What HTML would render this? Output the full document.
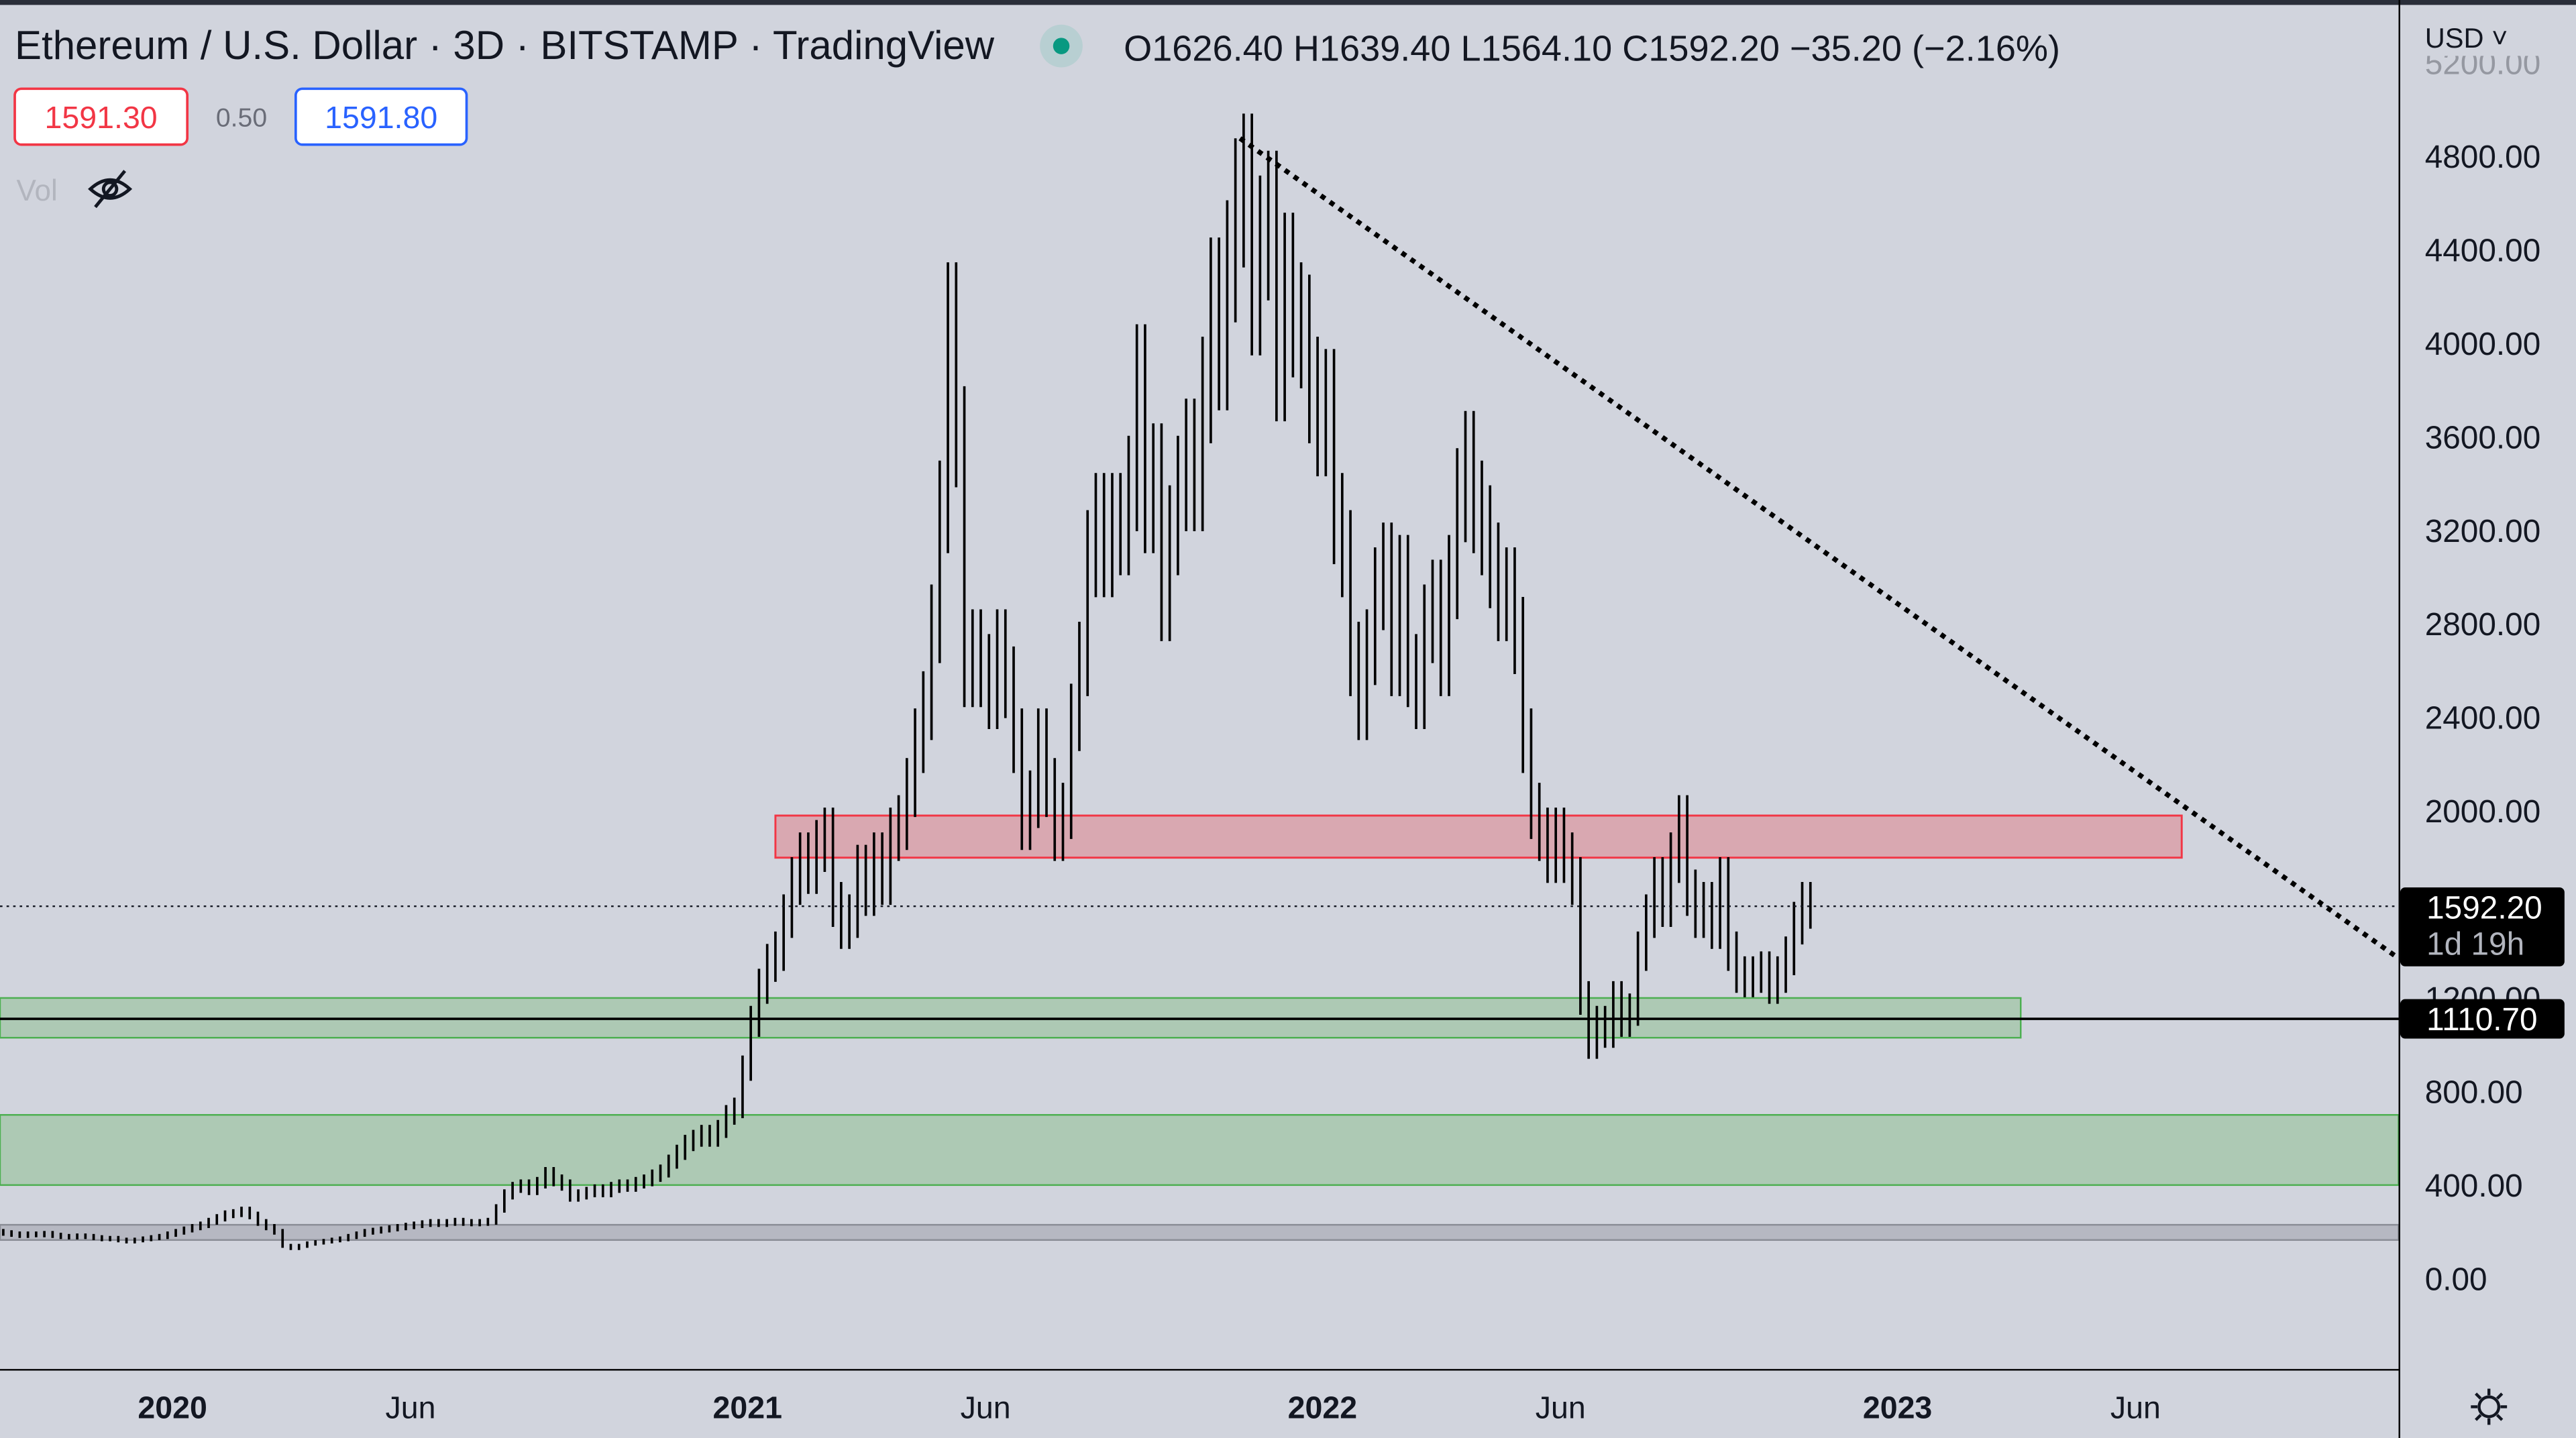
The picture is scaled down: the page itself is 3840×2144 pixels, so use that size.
<!DOCTYPE html>
<html><head><meta charset="utf-8"><style>
html,body{margin:0;padding:0;background:#d1d4dd;}
svg{display:block;font-family:"Liberation Sans",sans-serif;}
</style></head><body>
<svg id="chart" width="3840" height="2144" viewBox="0 0 1568 875" preserveAspectRatio="none" xmlns="http://www.w3.org/2000/svg">
<rect x="0" y="0" width="1568" height="875" fill="#d1d4dd"/>
<rect x="0" y="0" width="1568" height="3" fill="#2a2e39"/>
<g id="zones"></g>
<g id="bars"></g>
<g id="overlay"></g>
<line x1="1460.5" y1="0" x2="1460.5" y2="875" stroke="#000" stroke-width="1"/>
<line x1="0" y1="833.5" x2="1460" y2="833.5" stroke="#000" stroke-width="1"/>
<g id="yaxis"></g>
<g id="xaxis"></g>
<g>
<text x="9" y="36" font-size="24.5" fill="#131722">Ethereum / U.S. Dollar · 3D · BITSTAMP · TradingView</text>
<circle cx="646" cy="28" r="13" fill="#b8cfd2"/>
<circle cx="646" cy="28" r="5" fill="#089981"/>
<text x="684" y="37" font-size="22.1" fill="#131722">O1626.40  H1639.40  L1564.10  C1592.20  −35.20 (−2.16%)</text>
<rect x="9" y="54" width="105" height="34" rx="4" fill="#fff" stroke="#f23645" stroke-width="1.5"/>
<text x="61.5" y="78" font-size="19" fill="#f23645" text-anchor="middle">1591.30</text>
<text x="147" y="77" font-size="16" fill="#6a6d78" text-anchor="middle">0.50</text>
<rect x="180" y="54" width="104" height="34" rx="4" fill="#fff" stroke="#2962ff" stroke-width="1.5"/>
<text x="232" y="78" font-size="19" fill="#2962ff" text-anchor="middle">1591.80</text>
<text x="10" y="122" font-size="18" fill="#b2b5be">Vol</text>
<g stroke="#131722" stroke-width="2" fill="none">
<path d="M55 115 Q67 104 79 115 Q67 126 55 115Z"/><circle cx="67" cy="115" r="4"/><line x1="58" y1="126" x2="76" y2="104"/></g>
</g>
<g id="yaxis-top"></g>
<g>
<rect x="1462" y="4" width="105" height="30" fill="#d1d4dd"/>
<text x="1476" y="29" font-size="17" fill="#131722">USD ˅</text>
<g stroke="#131722" stroke-width="1.8" fill="none">
<circle cx="1515" cy="856" r="6"/><path d="M1515 845v4M1515 863v4M1504 856h4M1522 856h4M1507 848l3 3M1520 861l3 3M1507 864l3-3M1520 851l3-3"/></g>
</g>
</svg>
<script>
const closes=[195,190,185,190,188,192,185,180,178,182,180,175,170,172,165,160,165,170,175,180,
190,200,210,220,230,245,260,275,280,290,
270,240,220,200,140,
130,140,150,155,160,165,170,180,190,200,205,210,215,220,225,230,235,240,235,240,245,240,238,240,245,
300,360,390,400,380,410,450,420,400,350,
360,370,380,370,390,400,395,410,420,440,
460,500,540,580,600,620,600,640,700,730,900,
1100,1250,1350,1400,1550,1700,1800,1750,1850,1900,1600,1500,1550,1750,1650,1800,1700,1900,1950,2100,
2300,2450,2800,3300,4100,3600,2600,2700,2600,2500,2700,2550,2300,1950,2050,2300,2100,1900,2000,2400,
2650,3100,3250,3100,3250,3200,3400,3850,3300,3450,2900,3200,3400,3550,3400,3800,4200,3950,4350,4600,
4700,4200,4450,4550,3900,4300,4100,4050,3800,3650,3750,3250,3100,2650,2450,2700,2950,3050,2650,3000,
2600,2500,2800,2900,2650,3000,3350,3500,3300,3200,3050,2900,2950,2750,2300,2000,1900,1800,1900,1800,
1700,1200,1000,1100,1050,1200,1100,1150,1400,1550,1700,1600,1800,1950,1650,1550,1600,1500,1700,1400,
1300,1280,1300,1320,1250,1300,1380,1520,1600,1592];
const firstOpen=200;
const yTicks=[0,400,800,1200,2000,2400,2800,3200,3600,4000,4400,4800,5200];
const xTickLabels=["2020","Jun","2021","Jun","2022","Jun","2023","Jun"];
const xTickYears=[2020,2020.414,2021,2021.414,2022,2022.414,2023,2023.414];
const bandTop=[1200,700,230];
const bandBottom=[1030,400,165];
const resistTop=1980, resistBottom=1800;
const lastPrice=1592.20, supportLine=1110.70;
const trendStart=[2021.86,4870], trendEnd=[2023.90,1320];

const NS="http://www.w3.org/2000/svg";
const Y=v=>778-v*(683/4800);
const XT=t=>105+(t-2020)*350;
const XI=i=>2+i*5;
function mk(tag,attrs,parent){const e=document.createElementNS(NS,tag);for(const k in attrs)e.setAttribute(k,attrs[k]);parent.appendChild(e);return e;}
const zones=document.getElementById('zones'),bars=document.getElementById('bars'),ov=document.getElementById('overlay');
const ya=document.getElementById('yaxis'),xa=document.getElementById('xaxis');
const bandRight=[1230,1460,1460];
const bandFill=["#adc9b4","#adc9b4","#b6b8c2"],bandStroke=["#4caf50","#4caf50","#8a8d96"];
for(let i=0;i<bandTop.length;i++){
 const r=mk('rect',{x:0,y:Y(bandTop[i]),width:bandRight[i],height:Y(bandBottom[i])-Y(bandTop[i]),fill:bandFill[i],stroke:bandStroke[i],'stroke-width':1},zones);
 
 
}
const rz=mk('rect',{x:472,y:Y(resistTop),width:856,height:Y(resistBottom)-Y(resistTop),fill:"#d9a8b1",stroke:"#f23645",'stroke-width':1.2},zones);


let prev=firstOpen;
closes.forEach((c,i)=>{
 const hi=Math.max(prev,c)*1.06, lo=Math.min(prev,c)*0.94;
 const x=XI(i);
 const l=mk('line',{x1:x,x2:x,y1:Y(hi),y2:Y(lo),stroke:"#000",'stroke-width':1.5},bars);
 
 
 prev=c;
});
const pl=mk('line',{x1:0,x2:1460,y1:Y(lastPrice),y2:Y(lastPrice),stroke:"#131722",'stroke-width':1,'stroke-dasharray':'1.5 2.5'},ov);


const sl=mk('line',{x1:0,x2:1460,y1:Y(supportLine),y2:Y(supportLine),stroke:"#000",'stroke-width':1.5},ov);


const tx1=XT(trendStart[0]),ty1=Y(trendStart[1]);
const slope=(Y(trendEnd[1])-ty1)/(XT(trendEnd[0])-tx1);
const tl=mk('line',{x1:tx1,y1:ty1,x2:1460,y2:ty1+(1460-tx1)*slope,stroke:"#000",'stroke-width':3,'stroke-dasharray':'0.1 6.6','stroke-linecap':'square'},ov);


yTicks.forEach(v=>{
 const t=mk('text',{x:1476,y:Y(v)+7,'font-size':19.5,fill:v===5200?"#9598a1":"#131722"},ya);
 t.textContent=v.toFixed(2);
 
 
});
function tag(v,h,lines,name){
 const y=Y(v);
 const r=mk('rect',{x:1461,y:y-h/2,width:100,height:h,rx:3,fill:"#000"},ya);
 
 
 lines.forEach((s,k)=>{const t=mk('text',{x:1477,y:y-h/2+19+k*22,'font-size':19.5,fill:k?"#b2b5be":"#fff"},ya);t.textContent=s;
 
 });
}
tag(1504,48,[lastPrice.toFixed(2),"1d 19h"],'last-price-tag');
tag(supportLine,24,[supportLine.toFixed(2)],'support-price-tag');
xTickLabels.forEach((s,i)=>{
 const t=mk('text',{x:XT(xTickYears[i]),y:863,'font-size':19,'text-anchor':'middle',fill:"#131722",'font-weight':s==="Jun"?"normal":"bold"},xa);
 t.textContent=s;
 
 
});
</script>
</body></html>
